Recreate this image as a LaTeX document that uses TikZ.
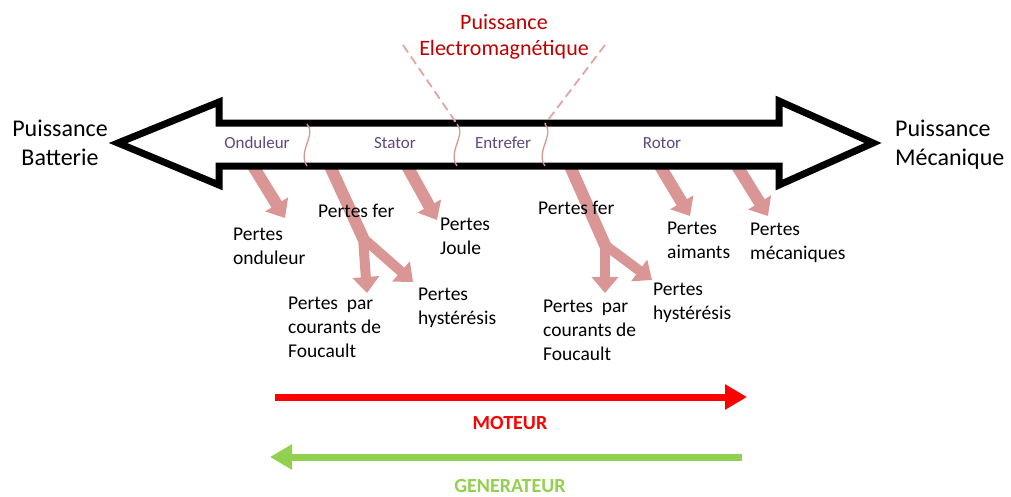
\documentclass[tikz,border=0pt]{standalone}
\usepackage{fontspec}
\setmainfont{Carlito}
\usepackage{tikz}
\usetikzlibrary{positioning,arrows.meta}
\definecolor{lossrose}{HTML}{D99694}
\definecolor{dashrose}{HTML}{E3A5A3}
\definecolor{plum}{HTML}{5F497A}
\definecolor{crimson}{HTML}{C00000}
\definecolor{motred}{HTML}{FF0000}
\definecolor{genlime}{HTML}{92D050}
\tikzset{
  bigarr/.style  ={draw=black, fill=white, line width=7pt, miter limit=20},
  zone/.style    ={font=\fontsize{17}{20}\selectfont, text=plum, inner sep=0pt},
  cut/.style     ={draw=lossrose, line width=1.3pt},
  emline/.style  ={draw=dashrose, line width=1.8pt, dash pattern=on 9pt off 5pt},
  lossarr/.style ={draw=lossrose, line width=12pt, -{Triangle[length=16pt,width=26pt]}},
  losstxt/.style ={font=\fontsize{19.5}{24}\selectfont, align=left, anchor=base west, inner sep=0pt},
  endtxt/.style  ={font=\fontsize{24}{29}\selectfont, inner sep=0pt},
  modearr/.style ={line width=7pt, -{Triangle[length=22pt,width=24pt]}},
  modetxt/.style ={font=\bfseries\fontsize{20}{24}\selectfont, inner sep=0pt},
}
\begin{document}
\begin{tikzpicture}[x=1pt,y=-1pt]
\useasboundingbox (0,0) rectangle (1011,496);

% loss arrows (under the shaft)
\coordinate (ondS) at (253,166); \coordinate (ondT) at (285,218);
\coordinate (sfS) at (330,166);  \coordinate (sfB) at (363,238);
\coordinate (sfF) at (367,293);  \coordinate (sfH) at (413,282);
\coordinate (jouS) at (407,166); \coordinate (jouT) at (437,220);
\coordinate (rfS) at (570,166);  \coordinate (rfB) at (605,245);
\coordinate (rfF) at (605,293);  \coordinate (rfH) at (652,280);
\coordinate (aimS) at (660,166); \coordinate (aimT) at (690,216);
\coordinate (mecS) at (737,166); \coordinate (mecT) at (768,216);

\draw[lossarr] (ondS) -- (ondT);
\draw[lossarr, -, line cap=round] (sfS) -- (sfB);
\draw[lossarr, line width=10pt] (sfB) -- (sfF);
\draw[lossarr, line width=10pt] (sfB) -- (sfH);
\draw[lossarr] (jouS) -- (jouT);
\draw[lossarr, -, line cap=round] (rfS) -- (rfB);
\draw[lossarr, line width=10pt] (rfB) -- (rfF);
\draw[lossarr, line width=10pt] (rfB) -- (rfH);
\draw[lossarr] (aimS) -- (aimT);
\draw[lossarr] (mecS) -- (mecT);

% double power arrow
\draw[bigarr] (118,143) -- (219,102) -- (219,123) -- (779,123) -- (779,101)
  -- (873,143) -- (779,185) -- (779,166) -- (219,166) -- (219,185) -- cycle;

% zone cuts
\foreach \sx/\nm in {307/cA,457/cB,545/cC}{
  \coordinate (\nm t) at (\sx,124);
  \coordinate (\nm b) at (\sx,166);
  \draw[cut] (\nm t) .. controls (\sx+10,134) and (\sx-10,152) .. (\nm b);
}
\coordinate (emL) at (403,45);
\coordinate (emR) at (605,45);
\draw[emline] (emL) -- (cBt);
\draw[emline] (emR) -- (cCt);

\node[endtxt, text=crimson, font=\fontsize{22}{26}\selectfont, align=center] (pem) at (504,37) {Puissance\\Electromagnétique};
\node[endtxt, align=center] (pbat) at (60,143) {Puissance\\Batterie};
\node[endtxt, align=left, anchor=west] (pmec) at (895,145) {Puissance\\Mécanique};

\node[zone] (zOnd) at (257,143) {Onduleur};
\node[zone] (zSta) at (395,143) {Stator};
\node[zone] (zEnt) at (503,143) {Entrefer};
\node[zone] (zRot) at (662,143) {Rotor};

% loss labels (base = last line)
\node[losstxt] (lOnd) at (233,264) {Pertes\\onduleur};
\node[losstxt] (lSfer) at (318,217) {Pertes fer};
\node[losstxt] (lJou) at (440,254) {Pertes\\Joule};
\node[losstxt] (lSfou) at (288,357) {Pertes\ \ par\\courants de\\Foucault};
\node[losstxt] (lShys) at (418,324) {Pertes\\hystérésis};
\node[losstxt] (lRfer) at (538,214) {Pertes fer};
\node[losstxt] (lAim) at (667,258) {Pertes\\aimants};
\node[losstxt] (lMec) at (750,259) {Pertes\\mécaniques};
\node[losstxt] (lRfou) at (543,360) {Pertes\ \ par\\courants de\\Foucault};
\node[losstxt] (lRhys) at (653,319) {Pertes\\hystérésis};

% operating modes
\coordinate (motA) at (275,397); \coordinate (motB) at (747,397);
\coordinate (genA) at (742,457); \coordinate (genB) at (270,457);
\draw[modearr, motred] (motA) -- (motB);
\draw[modearr, genlime] (genA) -- (genB);
\node[modetxt, text=motred] (mot) at (510,423) {MOTEUR};
\node[modetxt, text=genlime, below=49pt of mot] (gen) {GENERATEUR};
\end{tikzpicture}
\end{document}
